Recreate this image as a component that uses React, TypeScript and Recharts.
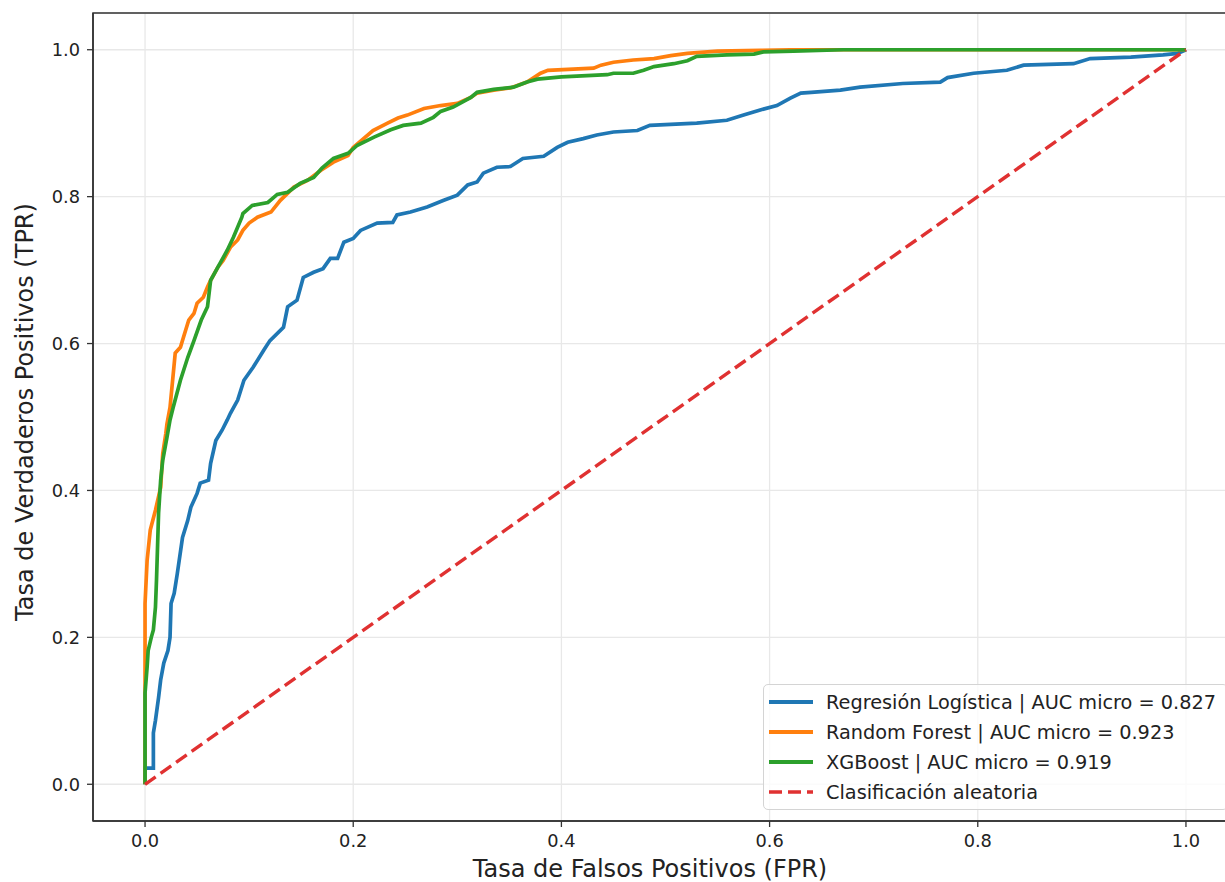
import React from 'react';
import { LineChart, Line, XAxis, YAxis, CartesianGrid, ReferenceArea } from 'recharts';

const lrPoints: [number, number][] = [
  [0, 0], [0, 0.022], [0.008, 0.022], [0.008, 0.07], [0.01, 0.087], [0.013, 0.118], [0.015, 0.142],
  [0.018, 0.165], [0.022, 0.182], [0.024, 0.2], [0.025, 0.246], [0.028, 0.26], [0.031, 0.287],
  [0.036, 0.336], [0.041, 0.359], [0.044, 0.377], [0.05, 0.396], [0.053, 0.41], [0.061, 0.414],
  [0.063, 0.437], [0.068, 0.468], [0.074, 0.482], [0.079, 0.496], [0.082, 0.505], [0.089, 0.523],
  [0.095, 0.55], [0.104, 0.568], [0.114, 0.591], [0.12, 0.604], [0.133, 0.622], [0.137, 0.65],
  [0.146, 0.659], [0.152, 0.69], [0.162, 0.697], [0.171, 0.702], [0.178, 0.716], [0.185, 0.716],
  [0.191, 0.738], [0.2, 0.743], [0.207, 0.754], [0.223, 0.764], [0.238, 0.765], [0.242, 0.775],
  [0.255, 0.779], [0.271, 0.786], [0.287, 0.795], [0.3, 0.802], [0.31, 0.816], [0.319, 0.82],
  [0.325, 0.832], [0.338, 0.84], [0.351, 0.841], [0.363, 0.852], [0.383, 0.855], [0.396, 0.867],
  [0.406, 0.874], [0.421, 0.879], [0.434, 0.884], [0.45, 0.888], [0.473, 0.89], [0.485, 0.897],
  [0.53, 0.9], [0.559, 0.904], [0.575, 0.911], [0.591, 0.918], [0.607, 0.924], [0.62, 0.934],
  [0.63, 0.941], [0.64, 0.942], [0.668, 0.945], [0.687, 0.949], [0.728, 0.954], [0.764, 0.956],
  [0.771, 0.962], [0.796, 0.968], [0.828, 0.972], [0.844, 0.979], [0.892, 0.981], [0.908, 0.988],
  [0.947, 0.99], [0.978, 0.993], [0.992, 0.995], [1, 1],
];

const rfPoints: [number, number][] = [
  [0, 0], [0, 0.246], [0.002, 0.305], [0.005, 0.346], [0.01, 0.373], [0.015, 0.404], [0.017, 0.45],
  [0.02, 0.478], [0.021, 0.49], [0.024, 0.513], [0.029, 0.587], [0.034, 0.595], [0.037, 0.609],
  [0.042, 0.632], [0.047, 0.641], [0.05, 0.655], [0.056, 0.663], [0.06, 0.677], [0.063, 0.686],
  [0.07, 0.704], [0.075, 0.713], [0.082, 0.731], [0.089, 0.741], [0.094, 0.754], [0.1, 0.764],
  [0.108, 0.772], [0.121, 0.779], [0.13, 0.795], [0.143, 0.813], [0.156, 0.822], [0.169, 0.836],
  [0.181, 0.847], [0.195, 0.856], [0.2, 0.867], [0.219, 0.89], [0.233, 0.9], [0.243, 0.907],
  [0.252, 0.911], [0.268, 0.92], [0.284, 0.924], [0.3, 0.927], [0.313, 0.935], [0.319, 0.941],
  [0.335, 0.945], [0.351, 0.948], [0.367, 0.956], [0.38, 0.968], [0.387, 0.972], [0.431, 0.975],
  [0.438, 0.979], [0.45, 0.983], [0.469, 0.986], [0.489, 0.988], [0.505, 0.992], [0.521, 0.995],
  [0.55, 0.998], [0.591, 0.999], [0.62, 1], [1, 1],
];

const xgbPoints: [number, number][] = [
  [0, 0], [0, 0.124], [0.002, 0.16], [0.003, 0.182], [0.006, 0.2], [0.008, 0.21], [0.01, 0.241],
  [0.011, 0.278], [0.012, 0.323], [0.013, 0.369], [0.015, 0.414], [0.017, 0.441], [0.021, 0.472],
  [0.024, 0.496], [0.027, 0.513], [0.034, 0.55], [0.041, 0.581], [0.047, 0.604], [0.054, 0.632],
  [0.06, 0.65], [0.063, 0.686], [0.07, 0.704], [0.079, 0.727], [0.085, 0.745], [0.093, 0.772],
  [0.094, 0.777], [0.103, 0.788], [0.118, 0.792], [0.127, 0.803], [0.137, 0.806], [0.149, 0.818],
  [0.162, 0.826], [0.17, 0.839], [0.181, 0.852], [0.195, 0.859], [0.204, 0.87], [0.22, 0.881],
  [0.236, 0.891], [0.248, 0.897], [0.265, 0.9], [0.277, 0.908], [0.284, 0.916], [0.296, 0.922],
  [0.313, 0.935], [0.319, 0.942], [0.335, 0.946], [0.354, 0.949], [0.367, 0.956], [0.377, 0.96],
  [0.4, 0.963], [0.444, 0.966], [0.45, 0.968], [0.469, 0.968], [0.479, 0.972], [0.489, 0.977],
  [0.508, 0.981], [0.521, 0.985], [0.53, 0.991], [0.559, 0.993], [0.585, 0.994], [0.594, 0.997],
  [0.623, 0.998], [0.671, 1], [1, 1],
];

const randomPoints: [number, number][] = [[0, 0], [1, 1]];

const axisTicks = [0, 0.2, 0.4, 0.6, 0.8, 1.0];

const seriesNames = [
  'Regresión Logística | AUC micro = 0.827',
  'Random Forest | AUC micro = 0.923',
  'XGBoost | AUC micro = 0.919',
  'Clasificación aleatoria',
];
const seriesColors = ['#1f77b4', '#ff7f0e', '#2ca02c', '#e03131'];

const toData = (pts: [number, number][]) => pts.map(([fpr, tpr]) => ({ fpr, tpr }));

const FONT = '"DejaVu Sans", sans-serif';
const TEXT = '#222222';
const SPINE = '#333333';

const YLabel = () => {
  const cy = 412;
  return (
    <text x={25} y={cy} transform={`rotate(-90, 25, ${cy})`} textAnchor="middle" dominantBaseline="central"
      fontFamily={FONT} fontSize={24} fill={TEXT}>
      Tasa de Verdaderos Positivos (TPR)
    </text>
  );
};

const XLabel = () => (
  <text x={650} y={869} textAnchor="middle" dominantBaseline="central" fontFamily={FONT} fontSize={24} fill={TEXT}>
    Tasa de Falsos Positivos (FPR)
  </text>
);

export default function App() {
  const lines = [lrPoints, rfPoints, xgbPoints];
  return (
    <div style={{ position: 'absolute', left: 0, top: 0, width: 1225, height: 882, overflow: 'hidden', background: '#fff' }}>
      <LineChart width={1238} height={882} margin={{ top: 13, right: 0, left: 0, bottom: 0 }}>
        <CartesianGrid stroke="#e8e8e8" strokeWidth={1.3} />
        <XAxis
          type="number"
          dataKey="fpr"
          domain={[-0.05, 1.05]}
          ticks={axisTicks}
          allowDataOverflow
          height={61}
          tickFormatter={(v: number) => v.toFixed(1)}
          tick={{ fill: TEXT, fontSize: 17.8, fontFamily: FONT }}
          tickSize={6}
          tickMargin={7}
          axisLine={{ stroke: SPINE, strokeWidth: 1.5 }}
          tickLine={{ stroke: SPINE, strokeWidth: 1.3 }}
          label={<XLabel />}
        />
        <YAxis
          type="number"
          domain={[-0.05, 1.05]}
          ticks={axisTicks}
          allowDataOverflow
          width={93}
          tickFormatter={(v: number) => v.toFixed(1)}
          tick={{ fill: TEXT, fontSize: 17.8, fontFamily: FONT }}
          tickSize={6}
          tickMargin={7}
          axisLine={{ stroke: SPINE, strokeWidth: 1.5 }}
          tickLine={{ stroke: SPINE, strokeWidth: 1.3 }}
          label={<YLabel />}
        />
        <ReferenceArea x1={-0.05} x2={1.05} y1={-0.05} y2={1.05} fill="none" stroke={SPINE} strokeWidth={1.5} ifOverflow="visible" />
        {lines.map((pts, i) => (
          <Line
            key={i}
            data={toData(pts)}
            dataKey="tpr"
            type="linear"
            stroke={seriesColors[i]}
            strokeWidth={3.7}
            dot={false}
            activeDot={false}
            isAnimationActive={false}
          />
        ))}
        <Line
          data={toData(randomPoints)}
          dataKey="tpr"
          type="linear"
          stroke={seriesColors[3]}
          strokeWidth={3.4}
          strokeDasharray="13 6"
          dot={false}
          activeDot={false}
          isAnimationActive={false}
        />
      </LineChart>
      <div style={{
        position: 'absolute', left: 763, top: 684, width: 465, height: 126, boxSizing: 'border-box',
        border: '1.3px solid #d4d4d4', borderRadius: 5, background: 'rgba(255,255,255,0.8)',
        fontFamily: FONT, fontSize: 19.3, color: TEXT,
      }}>
        {seriesNames.map((name, i) => (
          <div key={i} style={{ position: 'absolute', left: 0, top: 2 + i * 30, height: 30, display: 'flex', alignItems: 'center', whiteSpace: 'nowrap' }}>
            <svg width={62} height={30} style={{ display: 'block' }}>
              <line x1={5} x2={49} y1={15} y2={15} stroke={seriesColors[i]} strokeWidth={i === 3 ? 3.4 : 4}
                strokeDasharray={i === 3 ? '13 6' : undefined} />
            </svg>
            <span>{name}</span>
          </div>
        ))}
      </div>
    </div>
  );
}
